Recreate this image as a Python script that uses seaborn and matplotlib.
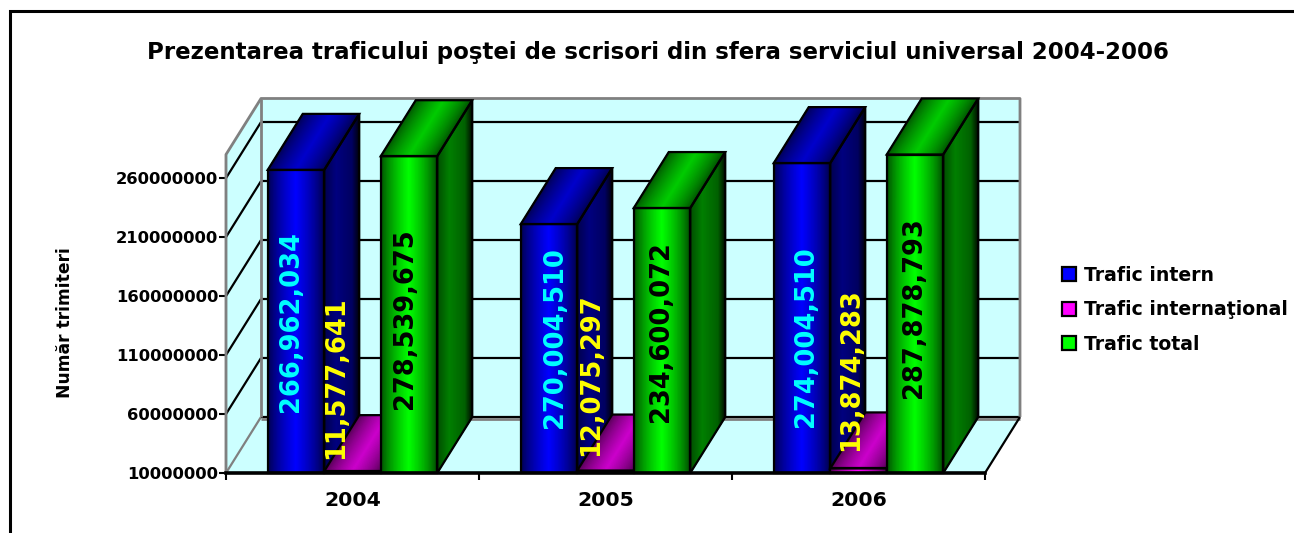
import numpy as np
import pandas as pd
import matplotlib
matplotlib.use('Agg')
import matplotlib.pyplot as plt
from matplotlib.collections import QuadMesh
from matplotlib.colors import LinearSegmentedColormap, Normalize
from matplotlib.lines import Line2D
from matplotlib.patches import Patch, Polygon, Rectangle
import seaborn as sns

# ---- data (bar heights do not always agree with the printed labels)
years = ['2004', '2005', '2006']
series = ['Trafic intern', 'Trafic internaţional', 'Trafic total']
intern = [266962034, 221000000, 272700000]
international = [11577641, 12075297, 13874283]
total = [278539675, 234600072, 280000000]
label_intern = ['266,962,034', '270,004,510', '274,004,510']
label_international = ['11,577,641', '12,075,297', '13,874,283']
label_total = ['278,539,675', '234,600,072', '287,878,793']
y_ticks = [10000000, 60000000, 110000000, 160000000, 210000000, 260000000]
colors = ['#0000FF', '#FF00FF', '#00FF00']
label_colors = ['#00FFFF', '#FFFF00', '#000000']

# ---- layout (pixels of the 1294x533 picture)
W, H = 1294, 533
AX_L, AX_R, AX_B, AX_T = 226, 985, 473, 154.5
DEPTH_X_PX, DEPTH_Y_PX = 35, 56
WALL = '#CCFFFF'
GREY = '#808080'
LW = 1.6

# label centres in picture pixels, per series then per year
label_px = [[(291, 322), (555, 338), (806, 337)],
            [(336, 378), (591, 375), (851, 370)],
            [(405, 319), (661, 332), (914, 308)]]

sns.set_style('white')
plt.rcParams['text.color'] = 'black'
plt.rcParams['xtick.color'] = 'black'
plt.rcParams['ytick.color'] = 'black'
fig = plt.figure(figsize=(W / 100, H / 100), dpi=100)
ax = fig.add_axes([AX_L / W, 1 - AX_B / H, (AX_R - AX_L) / W, (AX_B - AX_T) / H])
ax.patch.set_visible(False)

df = pd.DataFrame({
    'year': years * 3,
    'series': np.repeat(series, 3),
    'value': intern + international + total,
})
sns.barplot(data=df, x='year', y='value', hue='series', palette=colors,
            width=0.67, gap=0, dodge=True, legend=False, ax=ax)

Y0, Y1 = 10000000, 280000000
ax.set_autoscale_on(False)
ax.set_xlim(-0.5, 2.5)
ax.set_ylim(Y0, Y1)
dx = DEPTH_X_PX * 3 / (AX_R - AX_L)
dy = DEPTH_Y_PX * (Y1 - Y0) / (AX_B - AX_T)


def line(xs, ys, color='black', lw=LW, z=2):
    ax.add_line(Line2D(xs, ys, color=color, lw=lw, zorder=z, clip_on=False,
                       solid_capstyle='butt'))


def face(pts, color=WALL, z=1, **kw):
    ax.add_patch(Polygon(pts, closed=True, facecolor=color, zorder=z,
                         clip_on=False, **kw))


# walls and floor
XL, XR = -0.5, 2.5
face([(XL + dx, Y0 + dy), (XR + dx, Y0 + dy), (XR + dx, Y1 + dy), (XL + dx, Y1 + dy)], edgecolor='none')
face([(XL, Y0), (XL + dx, Y0 + dy), (XL + dx, Y1 + dy), (XL, Y1)], edgecolor='none')
face([(XL, Y0), (XR, Y0), (XR + dx, Y0 + dy), (XL + dx, Y0 + dy)], edgecolor='none')
for t in y_ticks:
    line([XL, XL + dx], [t, t + dy], color='black' if t > Y0 else GREY)
    line([XL + dx, XR + dx], [t + dy, t + dy])
line([XL + dx, XR + dx], [Y0 + dy * 0.965] * 2, color=GREY, lw=2)
line([XL, XL, XL + dx, XR + dx, XR + dx], [Y0, Y1, Y1 + dy, Y1 + dy, Y0 + dy], color=GREY, lw=2, z=2.2)
line([XL + dx, XL + dx], [Y0 + dy, Y1 + dy], color=GREY, lw=2, z=2.2)
line([XR, XR + dx], [Y0, Y0 + dy], z=2.2)

# 3d faces on top of the bars seaborn placed
u = np.linspace(0, 1, 41)
peak = 1 - np.abs(2 * u - 1)
front_b = 0.25 + 0.75 * peak ** 0.7
top_b = 0.3 + 0.5 * peak ** 0.7
side_b = np.interp(u, [0, 0.35, 0.8, 1], [0.3, 0.5, 0.38, 0.05])


def mesh(X, Y, b, cmap, z):
    # pcolormesh refuses 2d x on a categorical axis, so the mesh is added directly
    coords = np.dstack([X, Y])
    m = QuadMesh(coords, shading='gouraud', array=np.vstack([b, b]), cmap=cmap,
                 norm=Normalize(0, 1), transform=ax.transData, zorder=z)
    m.set_clip_on(False)
    ax.add_collection(m, autolim=False)


bars = [p for p in ax.patches if isinstance(p, Rectangle) and p.get_width() > 0]
bars = sorted(bars, key=lambda p: p.get_x())
z = 3
for i, bar in enumerate(bars):
    x0, w, top = bar.get_x(), bar.get_width(), bar.get_height()
    x1 = x0 + w
    cmap = LinearSegmentedColormap.from_list('c', ['black', colors[i % 3]])
    bar.set_zorder(z)
    xs = x0 + u * w
    mesh(np.vstack([xs + dx, xs]), np.vstack([np.full_like(u, top + dy), np.full_like(u, top)]), top_b, cmap, z + 0.1)
    sx = x1 + u * dx
    mesh(np.vstack([sx, sx]), np.vstack([Y0 + u * dy, top + u * dy]), side_b, cmap, z + 0.1)
    mesh(np.vstack([xs, xs]), np.vstack([np.full_like(u, Y0), np.full_like(u, top)]), front_b, cmap, z + 0.1)
    for pts in ([(x0, top), (x1, top), (x1 + dx, top + dy), (x0 + dx, top + dy)],
                [(x1, Y0), (x1 + dx, Y0 + dy), (x1 + dx, top + dy), (x1, top)],
                [(x0, Y0), (x1, Y0), (x1, top), (x0, top)]):
        ax.add_patch(Polygon(pts, closed=True, fill=False, edgecolor='black', lw=LW,
                             zorder=z + 0.2, clip_on=False, joinstyle='miter'))
    z += 1

# value labels
all_labels = [label_intern, label_international, label_total]
for s in range(3):
    for j in range(3):
        px, py = label_px[s][j]
        fig.text(px / W, 1 - py / H, all_labels[s][j], rotation=90, color=label_colors[s],
                 fontsize=18.5, fontweight='bold', ha='center', va='center', zorder=20)

# axes furniture
sns.despine(ax=ax, top=True, right=True, left=False, bottom=False)
ax.spines['left'].set_color(GREY)
ax.spines['left'].set_linewidth(1.5)
ax.spines['bottom'].set_color('black')
ax.spines['bottom'].set_linewidth(2.6)
ax.spines['bottom'].set_zorder(30)
ax.set_xticks([-0.5, 0.5, 1.5, 2.5], labels=[])
ax.set_xticks([0, 1, 2], labels=years, minor=True)
ax.tick_params(axis='x', which='major', length=5, width=1.5, color='black', bottom=True)
ax.tick_params(axis='x', which='minor', length=0, pad=13, labelsize=14.7)
ax.set_yticks(y_ticks, labels=[str(t) for t in y_ticks])
ax.tick_params(axis='y', length=5, width=1.5, color='black', left=True, pad=0.5, labelsize=11.8)
for t in ax.get_xticklabels(minor=True) + ax.get_yticklabels():
    t.set_fontweight('bold')
    t.set_color('black')
ax.set_xlabel('')
ax.set_ylabel('')
fig.text(65 / W, 1 - 323 / H, 'Număr trimiteri', rotation=90, fontsize=12.3, fontweight='bold',
         ha='center', va='center', color='black')
fig.text(658 / W, 1 - 53 / H, 'Prezentarea traficului poştei de scrisori din sfera serviciul universal 2004-2006',
         fontsize=16.45, fontweight='bold', ha='center', va='center', color='black')

# legend
handles = [Patch(facecolor=c, edgecolor='black', lw=1.6, label=s) for c, s in zip(colors, series)]
leg = ax.legend(handles=handles, loc='upper left', bbox_to_anchor=(1062 / W, 1 - 266 / H),
                bbox_transform=fig.transFigure, frameon=False, borderpad=0, borderaxespad=0,
                handlelength=0.75, handleheight=0.75, handletextpad=0.42, labelspacing=0.82,
                labelcolor='black', prop={'weight': 'bold', 'size': 13.6})

# outer frame, only top and left are inside the picture
fig.add_artist(Line2D([10 / W, 10 / W, 1], [0, 1 - 11 / H, 1 - 11 / H], color='black', lw=2.2,
                      solid_joinstyle='miter'))

fig.savefig('out.png', dpi=100)
